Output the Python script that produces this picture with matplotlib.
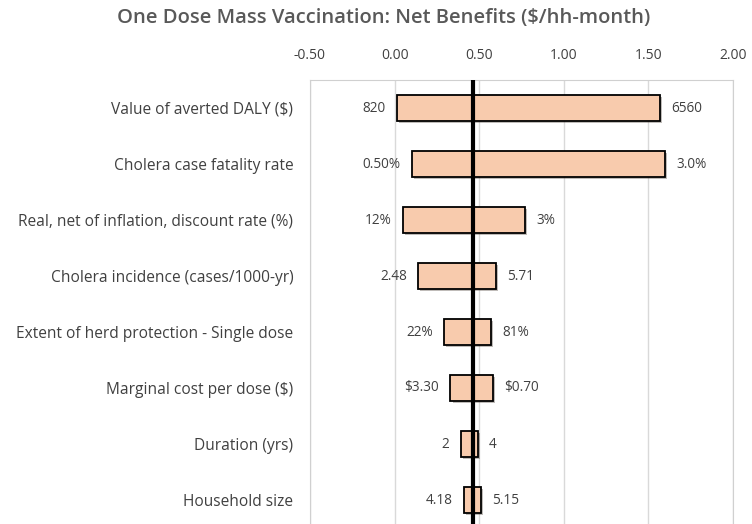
import matplotlib.pyplot as plt
import matplotlib.patheffects as pe

# ---------------------------- data ----------------------------
params = [
    "Value of averted DALY ($)",
    "Cholera case fatality rate",
    "Real, net of inflation, discount rate (%)",
    "Cholera incidence (cases/1000-yr)",
    "Extent of herd protection - Single dose",
    "Marginal cost per dose ($)",
    "Duration (yrs)",
    "Household size",
]
low_labels = ["820", "0.50%", "12%", "2.48", "22%", "$3.30", "2", "4.18"]
high_labels = ["6560", "3.0%", "3%", "5.71", "81%", "$0.70", "4", "5.15"]
# net benefit ($/hh-month) at the low-side and high-side input value
low_nb = [0.015, 0.10, 0.05, 0.14, 0.29, 0.33, 0.39, 0.41]
high_nb = [1.57, 1.60, 0.77, 0.60, 0.57, 0.58, 0.49, 0.51]
base_nb = 0.465
xticks = [-0.5, 0.0, 0.5, 1.0, 1.5, 2.0]

FONT = "Open Sans"
TXT = "#404040"

fig = plt.figure(figsize=(7.52, 5.24), dpi=100)
ax = fig.add_axes([310 / 752, -4 / 524, 423 / 752, 448 / 524])

ypos = list(range(len(params)))
widths = [h - l for l, h in zip(low_nb, high_nb)]
bars = ax.barh(ypos, widths, left=low_nb, height=0.47,
               color="#F8CBAD", edgecolor="black", linewidth=1.3, zorder=3)
for b in bars:
    b.set_path_effects([pe.SimplePatchShadow(offset=(1.5, -1.5), alpha=0.35), pe.Normal()])

for y, l, h, ll, hl in zip(ypos, low_nb, high_nb, low_labels, high_labels):
    ax.annotate(ll, (l, y), xytext=(-8, 0), textcoords="offset points",
                ha="right", va="center", fontsize=9.8, color=TXT, family=FONT)
    ax.annotate(hl, (h, y), xytext=(8, 0), textcoords="offset points",
                ha="left", va="center", fontsize=9.8, color=TXT, family=FONT)

ax.axvline(base_nb, color="black", lw=3, zorder=4)

ax.set_xlim(-0.5, 2.0)
ax.set_ylim(len(params) - 0.5, -0.5)
ax.set_xticks(xticks)
ax.set_xticklabels([f"{t:.2f}" for t in xticks], family=FONT, fontsize=10, color=TXT)
ax.xaxis.tick_top()
ax.set_yticks(ypos)
ax.set_yticklabels(params, family=FONT, fontsize=11.2, color=TXT)
ax.tick_params(axis="x", length=0, pad=12)
ax.tick_params(axis="y", length=0, pad=12)
ax.grid(axis="x", color="#d9d9d9", lw=1, zorder=0)

for side in ["top", "left", "right"]:
    ax.spines[side].set_color("#d0d0d0")
ax.spines["bottom"].set_visible(False)

fig.text(384 / 752, 1 - 18 / 524, "One Dose Mass Vaccination: Net Benefits ($/hh-month)",
         ha="center", va="center", fontsize=14.5, fontweight="semibold", color="#595959", family=FONT)

fig.savefig("out.png", dpi=100)
